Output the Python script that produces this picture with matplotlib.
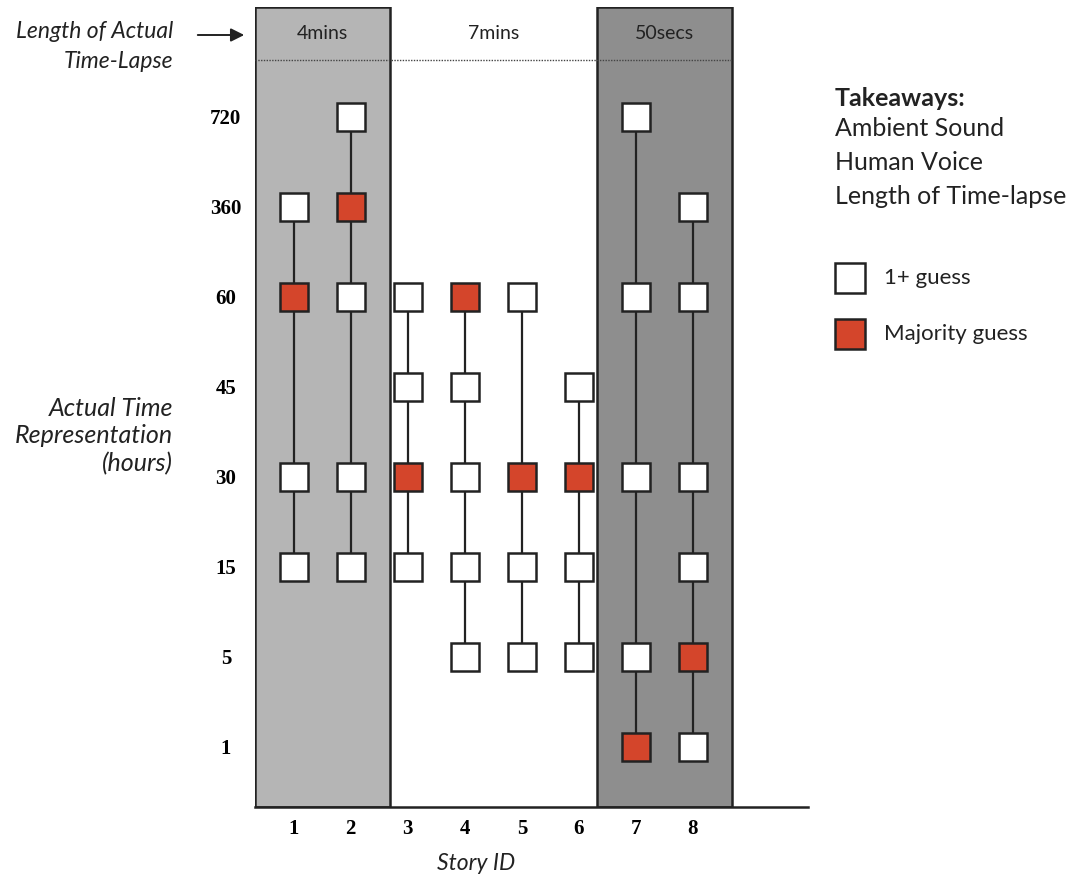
import matplotlib
matplotlib.use('Agg')
import matplotlib.pyplot as plt
from matplotlib.patches import Rectangle

# Guessed time levels (hours), bottom to top
levels = [1, 5, 15, 30, 45, 60, 360, 720]
story_ids = [1, 2, 3, 4, 5, 6, 7, 8]

# Guesses per story (level values); the majority guess is drawn red
guesses = {
    1: [360, 60, 30, 15],
    2: [720, 360, 60, 30, 15],
    3: [60, 45, 30, 15],
    4: [60, 45, 30, 15, 5],
    5: [60, 30, 15, 5],
    6: [45, 30, 15, 5],
    7: [720, 60, 30, 5, 1],
    8: [360, 60, 30, 15, 5, 1],
}
majority = {1: 60, 2: 360, 3: 30, 4: 60, 5: 30, 6: 30, 7: 1, 8: 5}

# Time-lapse length groups
lapse_labels = ['4mins', '7mins', '50secs']
lapse_groups = [[1, 2], [3, 4, 5, 6], [7, 8]]
lapse_colors = ['#b5b5b5', None, '#8e8e8e']

RED = '#d4452b'
INK = '#222222'
SANS = ['Lato', 'DejaVu Sans']
SERIF = ['Liberation Serif', 'DejaVu Serif']

fig = plt.figure(figsize=(10.76, 8.8), dpi=100)
ax = fig.add_axes([0.237, 0.083, 0.514, 0.909])

level_idx = {v: i for i, v in enumerate(levels)}
y_top = len(levels) + 0.22
pad = 0.68

# shaded panels for the time-lapse groups
for label, group, color in zip(lapse_labels, lapse_groups, lapse_colors):
    x0, x1 = group[0] - pad, group[-1] + pad
    if color is not None:
        ax.add_patch(Rectangle((x0, -0.67), x1 - x0, y_top + 0.67, facecolor=color,
                               edgecolor=INK, linewidth=1.8, zorder=0))
    ax.text((x0 + x1) / 2, len(levels) - 0.07, label, ha='center', va='center',
            fontsize=14, family=SANS, color=INK)

ax.plot([lapse_groups[0][0] - pad, lapse_groups[-1][-1] + pad],
        [len(levels) - 0.37] * 2, linestyle=(0, (1, 1)), color='#444444',
        linewidth=1.0, zorder=1)

# vertical connectors and markers
for sid in story_ids:
    ys = [level_idx[v] for v in guesses[sid]]
    ax.plot([sid, sid], [min(ys), max(ys)], color=INK, linewidth=1.6, zorder=2)
    for v in guesses[sid]:
        face = RED if v == majority[sid] else 'white'
        ax.plot(sid, level_idx[v], marker='s', markersize=20, markerfacecolor=face,
                markeredgecolor=INK, markeredgewidth=1.8, linestyle='none', zorder=3)

ax.set_xlim(story_ids[0] - pad, 10.02)
ax.set_ylim(-0.67, y_top)
ax.set_xticks(story_ids)
ax.set_xticklabels([str(s) for s in story_ids], family=SERIF, fontweight='bold',
                   fontsize=15)
ax.set_yticks(range(len(levels)))
ax.set_yticklabels([str(v) for v in levels], family=SERIF, fontweight='bold',
                   fontsize=15, ha='center')
ax.tick_params(axis='x', length=0, pad=9)
ax.tick_params(axis='y', length=0, pad=21)
for side in ['top', 'right', 'left']:
    ax.spines[side].set_visible(False)
ax.spines['bottom'].set_linewidth(1.8)
ax.spines['bottom'].set_color(INK)
ax.set_xlabel('Story ID', family=SANS, style='italic', fontsize=16.5, color=INK)
ax.xaxis.set_label_coords(0.40, -0.058)

# left-side labels
fig.text(173 / 1076, 1 - 31 / 880, 'Length of Actual', ha='right', va='center',
         family=SANS, style='italic', fontsize=16.5, color=INK)
fig.text(173 / 1076, 1 - 62 / 880, 'Time-Lapse', ha='right', va='center',
         family=SANS, style='italic', fontsize=16.5, color=INK)
fig.text(173 / 1076, 1 - 436 / 880, 'Actual Time\nRepresentation\n(hours)',
         ha='right', va='center', family=SANS, style='italic', fontsize=18,
         color=INK, linespacing=1.25, multialignment='right')
fig.add_artist(matplotlib.patches.FancyArrowPatch(
    (195 / 1076, 1 - 35 / 880), (247 / 1076, 1 - 35 / 880),
    transform=fig.transFigure, arrowstyle='-|>', mutation_scale=20,
    color=INK, linewidth=1.4))

# takeaways
fig.text(835 / 1076, 1 - 98 / 880, 'Takeaways:', ha='left', va='center',
         family=SANS, fontweight='bold', fontsize=18, color=INK)
for i, line in enumerate(['Ambient Sound', 'Human Voice', 'Length of Time-lapse']):
    fig.text(835 / 1076, 1 - (128 + 34.5 * i) / 880, line, ha='left', va='center',
             family=SANS, fontsize=18, color=INK)

# legend
for yp, face, text in [(278, 'white', '1+ guess'), (334, RED, 'Majority guess')]:
    fig.add_artist(Rectangle((835 / 1076, 1 - (yp + 15) / 880), 30 / 1076, 30 / 880,
                             transform=fig.transFigure, facecolor=face,
                             edgecolor=INK, linewidth=1.8))
    fig.text(884 / 1076, 1 - yp / 880, text, ha='left', va='center',
             family=SANS, fontsize=16, color=INK)

fig.savefig('out.png', dpi=100)
